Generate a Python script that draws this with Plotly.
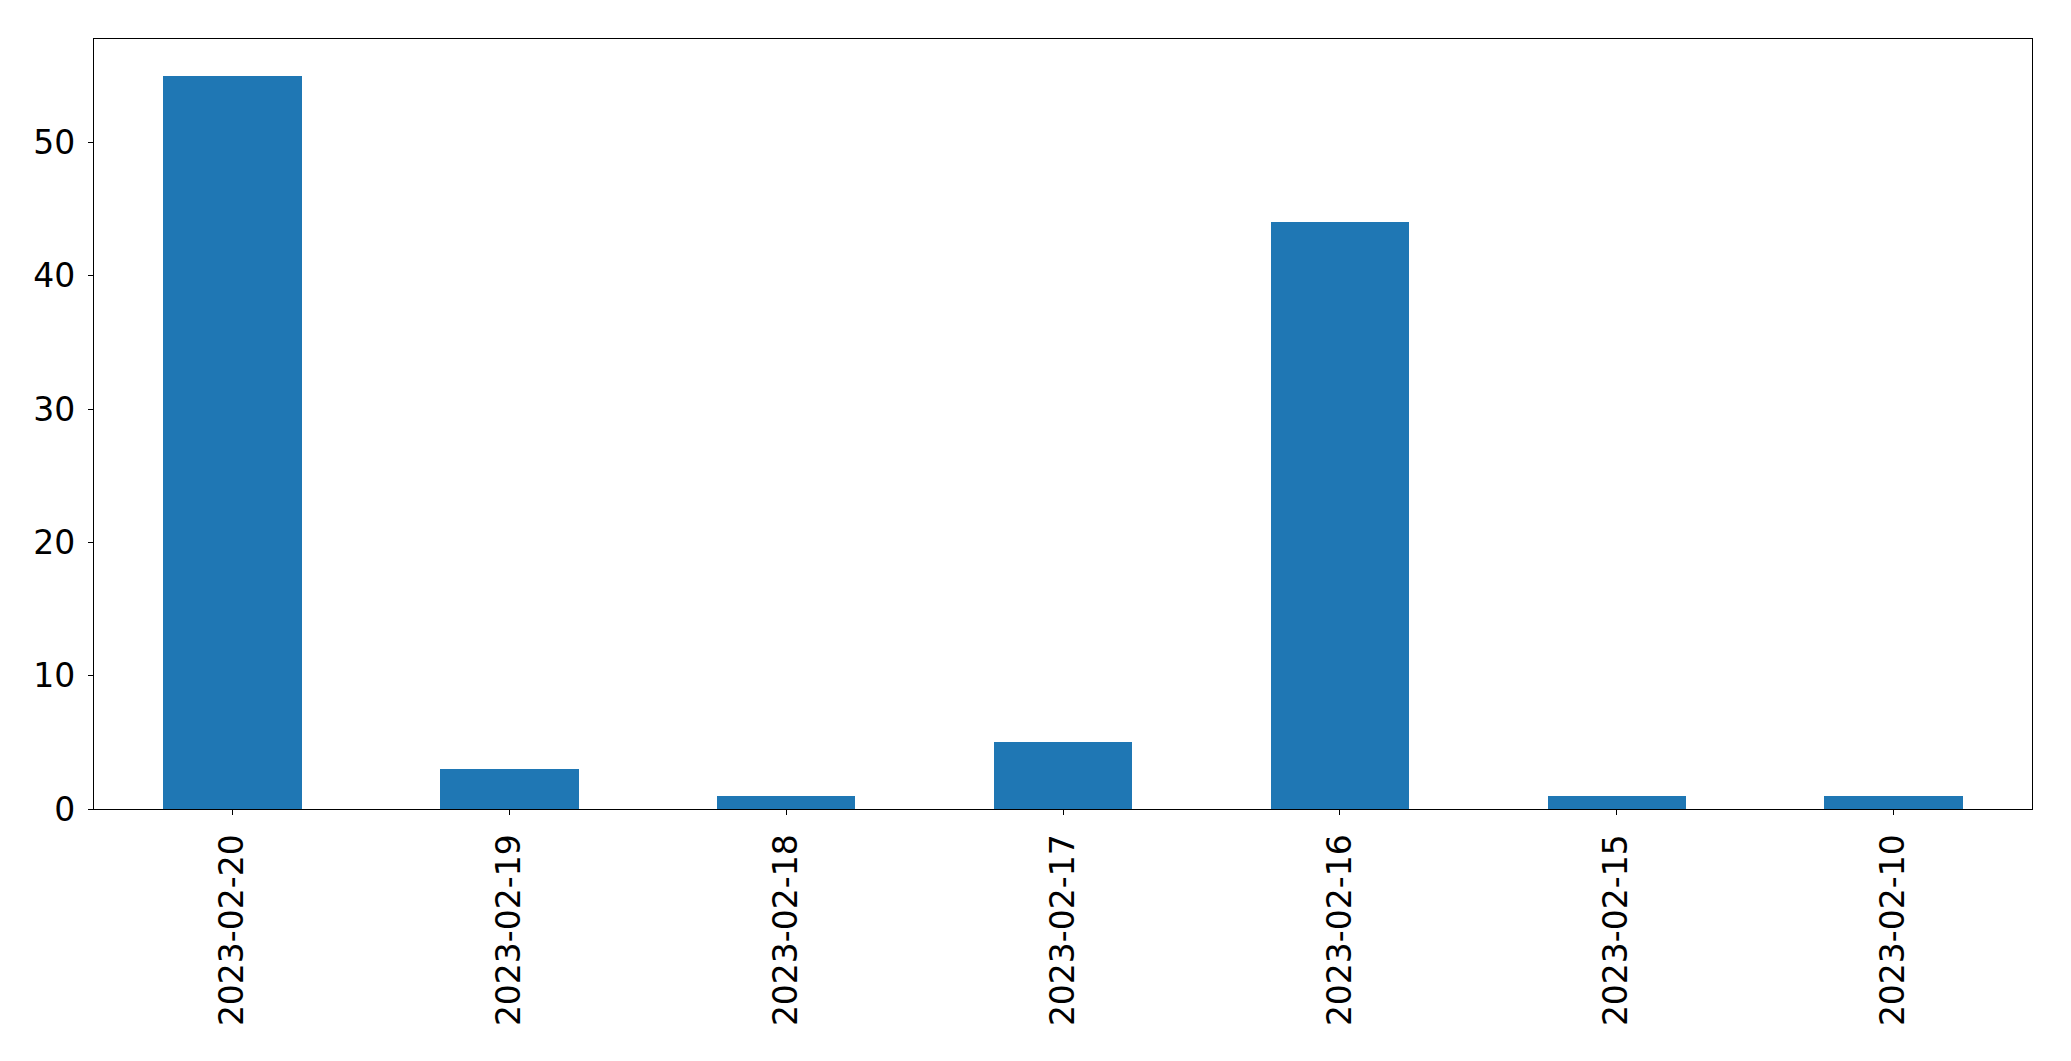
import plotly.graph_objects as go

dates = ["2023-02-20", "2023-02-19", "2023-02-18", "2023-02-17", "2023-02-16", "2023-02-15", "2023-02-10"]
counts = [55, 3, 1, 5, 44, 1, 1]
y_ticks = [0, 10, 20, 30, 40, 50]

fig = go.Figure(go.Bar(x=dates, y=counts, width=0.5, marker=dict(color="#1f77b4", line=dict(width=0))))

fig.update_layout(
    width=2071, height=1061,
    margin=dict(l=94, r=39, t=39, b=252),
    paper_bgcolor="white", plot_bgcolor="white",
    font=dict(family="DejaVu Sans", size=33, color="black"),
    showlegend=False,
    bargap=0,
)
fig.update_xaxes(
    type="category", range=[-0.5, 6.5], tickangle=-90,
    showline=True, linecolor="black", linewidth=1.3, mirror=True,
    ticks="outside", ticklen=5, tickwidth=1.3, tickcolor="black",
    showgrid=False, zeroline=False, ticklabelstandoff=6,
)
fig.update_yaxes(
    range=[0, 57.75], tickvals=y_ticks,
    showline=True, linecolor="black", linewidth=1.3, mirror=True,
    ticks="outside", ticklen=5, tickwidth=1.3, tickcolor="black",
    showgrid=False, zeroline=False, ticklabelstandoff=6,
)
fig.write_html(
    "out.html",
    config={"displayModeBar": False},
    post_script="document.body.style.margin='0';document.body.style.overflow='hidden';",
)
